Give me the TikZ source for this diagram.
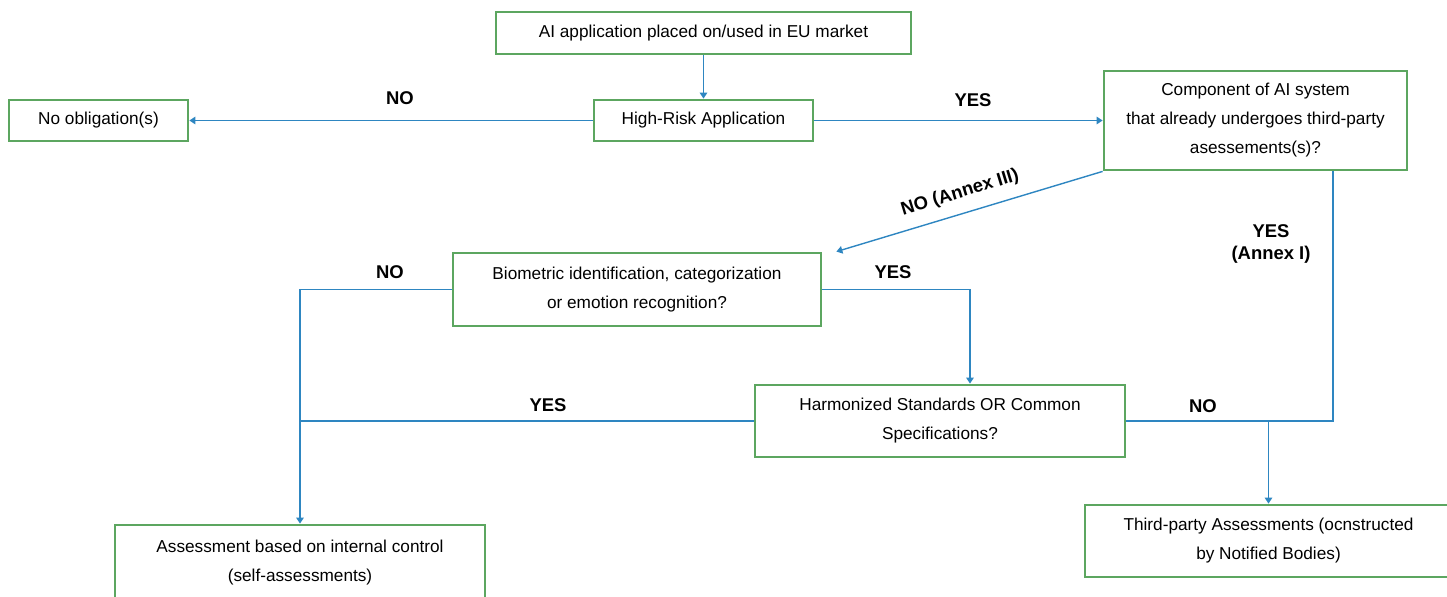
\documentclass[tikz,border=0pt]{standalone}
\usepackage{fontspec}
\setmainfont{Liberation Sans}
\usetikzlibrary{arrows.meta,positioning,calc}
\definecolor{boxgreen}{RGB}{92,166,96}
\definecolor{lineblue}{RGB}{46,134,193}

\begin{document}
\begin{tikzpicture}[
  x=0.02cm,y=-0.02cm,
  box/.style={draw=boxgreen, line width=1.6pt, align=center, inner sep=2pt, font=\fontsize{9.8}{16.5}\selectfont},
  arr/.style={-{Triangle[length=1.2mm,width=1.5mm]}, draw=lineblue, line width=0.8pt},
  link/.style={draw=lineblue, line width=0.8pt},
  lbl/.style={font=\fontsize{10.5}{13}\selectfont\bfseries, align=center}
]
\useasboundingbox (0,0) rectangle (1447,596);
\node[box, minimum width=8.3cm, minimum height=0.84cm] (market) at (703.5,33) {AI application placed on/used in EU market};
\node[box, minimum width=4.38cm, minimum height=0.82cm] (highrisk) at (703.5,120.5) {High-Risk Application};
\node[box, minimum width=3.58cm, minimum height=0.82cm] (noobl) at (98.5,120.5) {No obligation(s)};
\node[box, minimum width=6.06cm, minimum height=1.98cm] (component) at (1255.5,120.5) {Component of AI system\\that already undergoes third-party\\asessements(s)?};
\node[box, minimum width=7.36cm, minimum height=1.46cm] (biometric) at (637,289.5) {Biometric identification, categorization\\or emotion recognition?};
\node[box, minimum width=7.4cm, minimum height=1.44cm] (harmonized) at (940,421) {Harmonized Standards OR Common\\Specifications?};
\node[box, minimum width=7.4cm, minimum height=1.5cm] (internal) at (300,562.5) {Assessment based on internal control\\(self-assessments)};
\node[box, minimum width=7.34cm, minimum height=1.44cm] (thirdparty) at (1268.5,541) {Third-party Assessments (ocnstructed\\by Notified Bodies)};
\draw[arr] (market) -- (highrisk); \draw[arr] (highrisk) -- (noobl); \draw[arr] (highrisk) -- (component);
\draw[arr] (component.south west) -- ([xshift=0.28cm]biometric.north east);
\draw[link] ([xshift=1.55cm]component.south) |- (harmonized.east);
\draw[arr] (harmonized.east -| thirdparty.north) -- (thirdparty.north);
\draw[arr] (biometric.west) -| (internal.north); \draw[arr] (biometric.east) -| ([xshift=0.6cm]harmonized.north);
\draw[link] (harmonized.west) -- (harmonized.west -| internal.north);
\node[lbl] (lno1) at (400,98) {NO};
\node[lbl] (lyes1) at (973,100) {YES};
\node[lbl, rotate=17] (lannex3) at (960,193) {NO (Annex III)};
\node[lbl] (lannex1) at (1271,244) {YES\\(Annex I)};
\node[lbl] (lno2) at (390,272) {NO};
\node[lbl] (lyes2) at (893,272) {YES};
\node[lbl] (lyes3) at (548,405) {YES};
\node[lbl] (lno3) at (1203,406) {NO};
\end{tikzpicture}
\end{document}
